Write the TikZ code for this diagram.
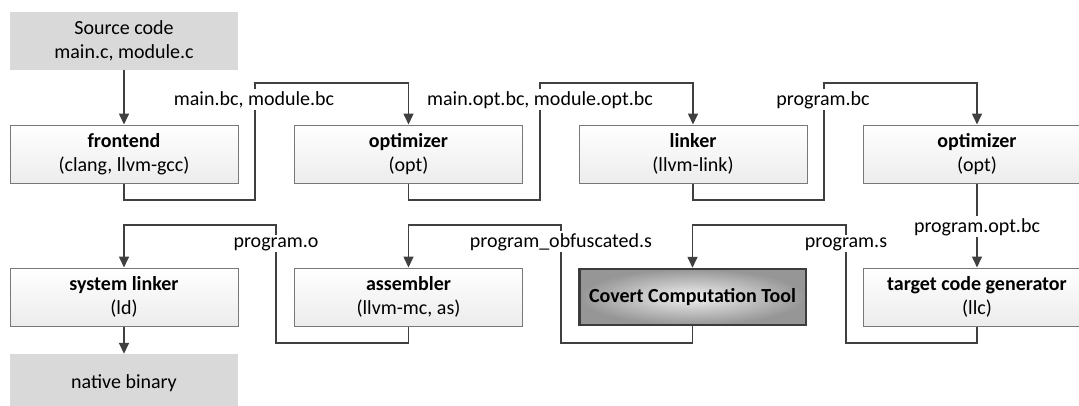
\documentclass[tikz,border=0pt]{standalone}
\usepackage{fontspec}
\setmainfont{Carlito}
\usetikzlibrary{arrows.meta}
\definecolor{boxline}{RGB}{120,120,120}
\definecolor{boxbot}{RGB}{236,236,236}
\definecolor{termfill}{RGB}{217,217,217}
\definecolor{conncol}{RGB}{64,64,64}
\definecolor{cctline}{RGB}{60,60,60}
\definecolor{cctin}{RGB}{240,240,240}
\definecolor{cctout}{RGB}{150,150,150}
\begin{document}
\begin{tikzpicture}[x=1pt,y=-1pt,font=\fontsize{20}{24}\selectfont,
  proc/.style={draw=boxline,line width=1pt,top color=white,bottom color=boxbot,
    minimum width=228pt,minimum height=58pt,inner sep=0pt,align=center},
  term/.style={fill=termfill,minimum width=228pt,minimum height=58pt,inner sep=0pt,align=center},
  cctbox/.style={draw=cctline,line width=2.5pt,inner color=cctin,outer color=cctout,
    minimum width=226.5pt,minimum height=56pt,inner sep=0pt,align=center,font=\fontsize{20}{24}\selectfont\bfseries},
  wire/.style={draw=conncol,line width=1.6pt},
  conn/.style={wire,-{Triangle[length=11pt,width=10pt]}},
  lbl/.style={fill=white,inner sep=2pt,anchor=base}]
\useasboundingbox (0,0) rectangle (1079,405);
\clip (0,0) rectangle (1079,405);
% nodes
\node[term] (src) at (124,41) {Source code\\main.c, module.c};
\node[proc] (fe) at (124,154) {\textbf{frontend}\\(clang, llvm-gcc)};
\node[proc] (opt1) at (408.5,154) {\textbf{optimizer}\\(opt)};
\node[proc] (lnk) at (693,154) {\textbf{linker}\\(llvm-link)};
\node[proc] (opt2) at (977,154) {\textbf{optimizer}\\(opt)};
\node[proc] (sl) at (124,297) {\textbf{system linker}\\(ld)};
\node[proc] (asm) at (408.5,297) {\textbf{assembler}\\(llvm-mc, as)};
\node[cctbox] (cct) at (692.5,297) {Covert Computation Tool};
\node[proc] (tcg) at (977,297) {\textbf{target code generator}\\(llc)};
\node[term] (nb) at (124,383) {native binary};
% bends
\coordinate (k1) at (255,200);  \coordinate (k2) at (255,83);
\coordinate (k3) at (540,200);  \coordinate (k4) at (540,83);
\coordinate (k5) at (824,200);  \coordinate (k6) at (824,83);
\coordinate (k7) at (846,343);  \coordinate (k8) at (846,225);
\coordinate (k9) at (561,343);  \coordinate (k10) at (561,225);
\coordinate (k11) at (276,343); \coordinate (k12) at (276,225);
% connectors
\draw[conn] (src) -- (fe);
\draw[conn] (fe.south) |- (k1) -- (k2) -| (opt1.north);
\draw[conn] (opt1.south) |- (k3) -- (k4) -| (lnk.north);
\draw[conn] (lnk.south) |- (k5) -- (k6) -| (opt2.north);
\draw[conn] (opt2) -- (tcg);
\draw[conn] (tcg.south) |- (k7) -- (k8) -| (cct.north);
\draw[conn] (cct.south) |- (k9) -- (k10) -| (asm.north);
\draw[conn] (asm.south) |- (k11) -- (k12) -| (sl.north);
\draw[conn] (sl) -- (nb);
% labels
\node[lbl] (t1) at (254,105) {main.bc, module.bc};
\node[lbl] (t2) at (540,105) {main.opt.bc, module.opt.bc};
\node[lbl] (t3) at (823,105) {program.bc};
\node[lbl] (t4) at (977,232) {program.opt.bc};
\node[lbl] (t5) at (846,247) {program.s};
\node[lbl] (t6) at (561,247) {program\_obfuscated.s};
\node[lbl] (t7) at (276,247) {program.o};
\end{tikzpicture}
\end{document}
